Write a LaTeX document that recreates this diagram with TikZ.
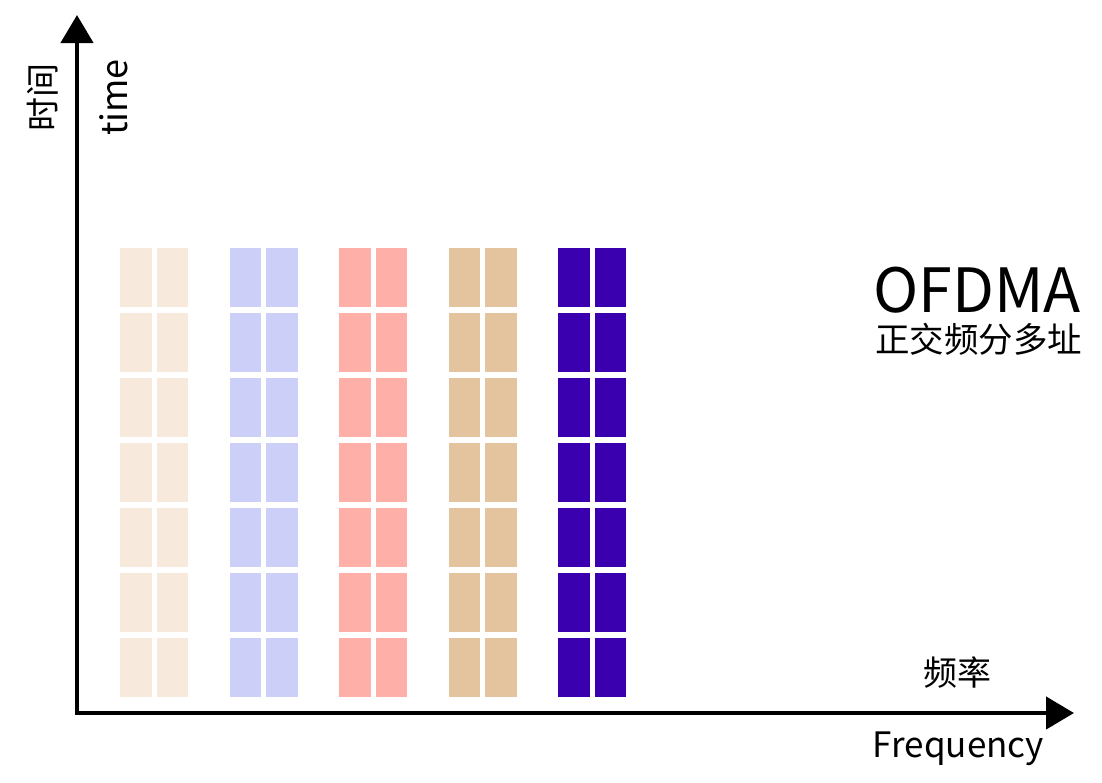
\documentclass[tikz,border=0pt]{standalone}
\usepackage{fontspec}
\newfontfamily\cjk{Noto Sans CJK SC}
\usetikzlibrary{arrows.meta}
\definecolor{cbeige}{HTML}{F7EADD}
\definecolor{clav}{HTML}{CCCFF8}
\definecolor{csalmon}{HTML}{FEB0A8}
\definecolor{ctan}{HTML}{E3C49F}
\definecolor{cpurple}{HTML}{3A00B0}
\tikzset{
  axis/.style={line width=4.5pt, -{Triangle[width=32pt,length=28pt]}},
  cell/.style={inner sep=0pt, outer sep=0pt, minimum width=31.5pt, minimum height=59pt, anchor=north west},
  lbl/.style={inner sep=0pt, outer sep=0pt, font=\cjk},
}
\begin{document}
\begin{tikzpicture}[x=1pt,y=-1pt]
\useasboundingbox (0,0) rectangle (1102,782);
% blocks
\foreach \g/\col in {0/cbeige,1/clav,2/csalmon,3/ctan,4/cpurple}{
  \foreach \r in {0,...,6}{
    \foreach \c in {0,1}{
      \node[cell, fill=\col] (b\g-\r-\c) at ({120+109.6*\g+36.5*\c},{247.7+65*\r}) {};
    }
  }
}
% axes
\coordinate (O) at (77,713);
\coordinate (Oh) at (75,713);
\coordinate (ytip) at (77,15);
\coordinate (xtip) at (1074,713);
\draw[axis] (O) -- (ytip);
\draw[axis] (Oh) -- (xtip);
% labels
\node[lbl, font=\cjk\fontsize{34}{40}\selectfont, rotate=90] (tj) at (43,97.5) {时间};
\node[lbl, font=\cjk\fontsize{36}{42}\selectfont, rotate=90, anchor=base] (tm) at (127,97.5) {time};
\node[lbl, font=\cjk\fontsize{61}{70}\selectfont, anchor=base east] (of) at (1081,312) {OFDMA};
\node[lbl, font=\cjk\fontsize{34.5}{40}\selectfont, anchor=east] (zj) at (1082,339) {正交频分多址};
\node[lbl, font=\cjk\fontsize{34}{40}\selectfont] (pl) at (957.5,672) {频率};
\node[lbl, font=\cjk\fontsize{35}{42}\selectfont, anchor=base] (fq) at (958.5,757) {Frequency};
\end{tikzpicture}
\end{document}
